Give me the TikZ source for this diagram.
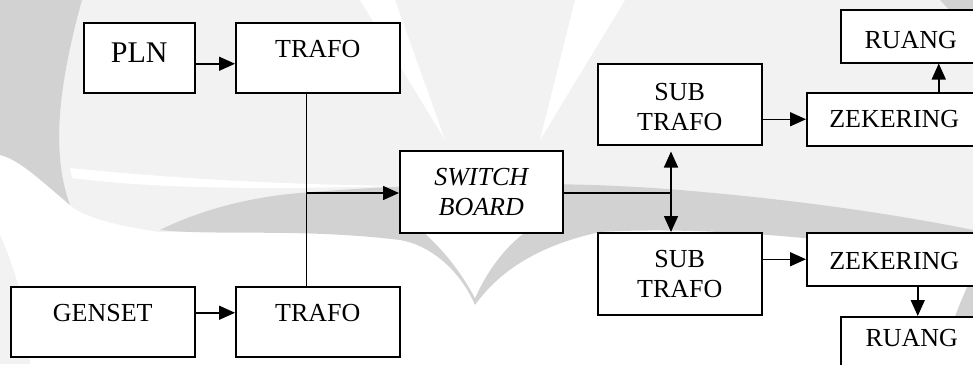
\documentclass[tikz,border=0pt]{standalone}
\usepackage{fontspec}
\setmainfont{Liberation Serif}
\usetikzlibrary{arrows.meta}
\definecolor{wmdark}{HTML}{D2D2D2}
\definecolor{wmlight}{HTML}{F2F2F2}
\tikzset{
  box/.style={draw, line width=1.5pt, fill=white, inner sep=0pt, anchor=north west},
  lbl/.style={font=\fontsize{26}{30}\selectfont, align=center},
  arr/.style={-{Triangle[length=16pt,width=14pt]}, line width=1.5pt},
  ln/.style={line width=1.3pt},
}
\begin{document}
\begin{tikzpicture}[x=1pt,y=-1pt]
\useasboundingbox (0,0) rectangle (973,364);
\begin{scope}
\clip (0,0) rectangle (973,364);
% watermark
\fill[wmlight] (82,0) -- (973,0) -- (973,240) .. controls (800,215) and (650,225) .. (560,228) -- (160,232) .. controls (110,225) and (80,215) .. (70,205) .. controls (50,150) and (60,80) .. (82,0) -- cycle;
\fill[white] (360,0) -- (395,0) -- (445,140) -- cycle;
\fill[white] (575,0) -- (625,0) -- (540,140) -- cycle;
\fill[white] (70,168) .. controls (150,176) and (250,184) .. (400,186) .. controls (250,190) and (150,188) .. (72,178) -- cycle;
\fill[wmdark] (0,0) -- (82,0) .. controls (60,80) and (50,150) .. (70,205) .. controls (40,180) and (20,160) .. (0,155) -- cycle;
\fill[wmlight] (0,235) .. controls (20,280) and (28,320) .. (30,364) -- (0,364) -- cycle;
\fill[wmdark] (160,230) .. controls (200,210) and (250,197) .. (300,193) .. controls (420,183) and (560,180) .. (680,190) .. controls (800,200) and (900,215) .. (973,230) -- (973,262) .. controls (850,238) and (700,226) .. (600,232) .. controls (540,245) and (500,270) .. (475,305) .. controls (460,270) and (430,245) .. (400,240) .. controls (300,228) and (220,236) .. (160,230) -- cycle;
\fill[white] (415,225) .. controls (440,245) and (460,270) .. (475,298) .. controls (490,265) and (510,240) .. (540,222) -- cycle;
\fill[wmdark] (973,275) -- (973,364) -- (938,364) .. controls (950,330) and (960,300) .. (973,275) -- cycle;
\fill[wmdark] (973,0) -- (940,0) .. controls (950,10) and (955,20) .. (973,25) -- cycle;
% boxes
\node[box, minimum width=111pt, minimum height=70pt] (pln) at (83,22) {};
\node[box, minimum width=164pt, minimum height=70pt] (trafoA) at (235,22) {};
\node[box, minimum width=184pt, minimum height=70pt] (genset) at (10,286) {};
\node[box, minimum width=164pt, minimum height=70pt] (trafoB) at (235,286) {};
\node[box, minimum width=163pt, minimum height=82pt] (sw) at (399,150) {};
\node[box, minimum width=164pt, minimum height=81pt] (subA) at (597,63) {};
\node[box, minimum width=175pt, minimum height=53pt] (zekA) at (806,92) {};
\node[box, minimum width=140pt, minimum height=53pt] (ruA) at (840,9) {};
\node[box, minimum width=164pt, minimum height=82pt] (subB) at (597,232) {};
\node[box, minimum width=175pt, minimum height=53pt] (zekB) at (806,232) {};
\node[box, minimum width=142pt, minimum height=64pt] (ruB) at (840,316) {};
% labels
\node[lbl, font=\fontsize{30}{34}\selectfont] (plnT) at ([yshift=5pt]pln.center) {PLN};
\node[lbl] (trafoAT) at ([yshift=9pt]trafoA.center) {TRAFO};
\node[lbl] (gensetT) at ([yshift=8.5pt]genset.center) {GENSET};
\node[lbl] (trafoBT) at ([yshift=9pt]trafoB.center) {TRAFO};
\node[lbl, font=\fontsize{26}{30}\selectfont\itshape] (swT) at (sw.center) {SWITCH\\BOARD};
\node[lbl] (subAT) at ([yshift=-3pt]subA.center) {SUB\\TRAFO};
\node[lbl] (zekAT) at (zekA.center) {ZEKERING};
\node[lbl] (ruAT) at ([yshift=-4pt]ruA.center) {RUANG};
\node[lbl] (subBT) at (subB.center) {SUB\\TRAFO};
\node[lbl] (zekBT) at ([yshift=-1.5pt]zekB.center) {ZEKERING};
\node[lbl] (ruBT) at ([yshift=10.5pt]ruB.center) {RUANG};
% connectors
\draw[arr] ([yshift=-6pt]pln.east) -- ([yshift=-6pt]trafoA.west);
\draw[arr] ([yshift=9pt]genset.east) -- ([yshift=9pt]trafoB.west);
\draw[ln] ([xshift=-11pt]trafoA.south) -- ([xshift=-11pt]trafoB.north);
\coordinate (j1) at (306,193);
\coordinate (j2) at (671,193);
\draw[arr] (j1) -- (sw.west |- j1);
\draw[ln] (sw.east |- j1) -- (j2);
\draw[arr] (j2) -- ([yshift=-6pt]subA.south -| j2);
\draw[arr] (j2) -- (subB.north -| j2);
\draw[arr] (subA.east |- zekA) -- (zekA.west);
\draw[arr] (subB.east |- zekB) -- (zekB.west);
\draw[arr] ([xshift=44.5pt]zekA.north) -- ([xshift=44.5pt]zekA.north |- ruA.south);
\draw[arr] ([xshift=23.5pt]zekB.south) -- ([xshift=23.5pt]zekB.south |- ruB.north);
\end{scope}
\end{tikzpicture}
\end{document}
